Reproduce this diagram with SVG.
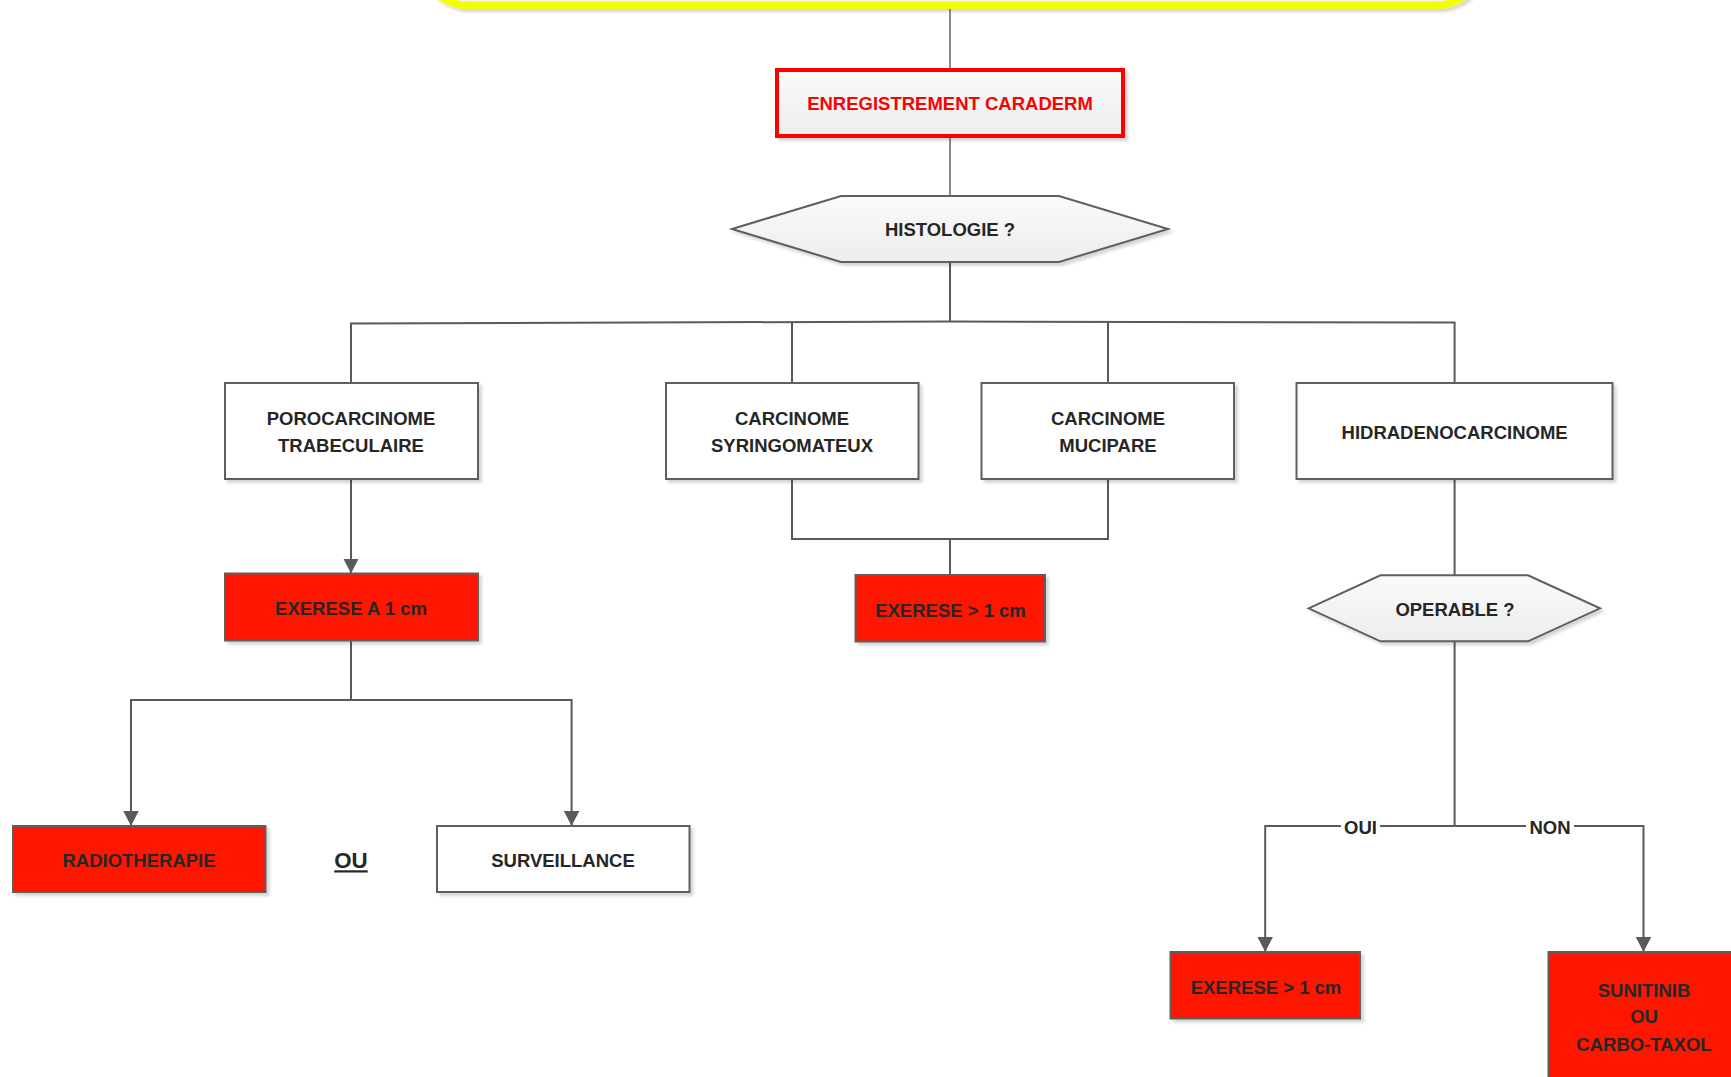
<svg xmlns="http://www.w3.org/2000/svg" width="1731" height="1077" viewBox="0 0 1731 1077">
  <defs>
    <style>
      .t { font-family: "Liberation Sans", Arial, sans-serif; font-weight: bold; font-size: 18.5px; fill: #262626; text-anchor: middle; }
      .red-t { fill: #FF0000; }
      .big { font-size: 22.3px; }
      .box { fill: #FFFFFF; stroke: #5E5E5E; stroke-width: 2; }
      .rbox { fill: #FF1400; stroke: #5E5E5E; stroke-width: 2; }
      .hex { fill: url(#lightGrad); stroke: #5E5E5E; stroke-width: 2; }
      .conn { fill: none; stroke: #5A5A5A; stroke-width: 2; }
      .thin { stroke-width: 1.4; }
    </style>
    <linearGradient id="lightGrad" x1="0" y1="0" x2="0" y2="1">
      <stop offset="0" stop-color="#FAFAFA"/>
      <stop offset="1" stop-color="#ECEDED"/>
    </linearGradient>
    <filter id="shadow" x="-5%" y="-5%" width="115%" height="125%">
      <feDropShadow dx="3" dy="3" stdDeviation="1.5" flood-color="#000000" flood-opacity="0.16"/>
    </filter>
    <marker id="arrow" viewBox="0 0 15 16" markerWidth="15" markerHeight="16" refX="14.5" refY="8" orient="auto" markerUnits="userSpaceOnUse">
      <path d="M0,0.3 L15,8 L0,15.7 Z" fill="#5A5A5A"/>
    </marker>
  </defs>

  <rect width="1731" height="1077" fill="#FFFFFF"/>

  <!-- Top yellow box (mostly off-canvas) -->
  <g id="top-box">
    <rect x="421" y="-120" width="1062" height="125.3" rx="47" ry="47" fill="#F2F2F2" stroke="#F2FF00" stroke-width="7.5" filter="url(#shadow)"/>
  </g>

  <!-- Connectors -->
  <g id="connectors">
    <line class="conn thin" x1="950" y1="9" x2="950" y2="68"/>
    <line class="conn thin" x1="950" y1="137" x2="950" y2="196"/>
    <line class="conn" x1="950" y1="262" x2="950" y2="321.5"/>
    <polyline class="conn" points="351,383 351,323.5 950,321.5 1454.6,322.5 1454.6,383"/>
    <line class="conn" x1="792" y1="322.5" x2="792" y2="383"/>
    <line class="conn" x1="1108" y1="322" x2="1108" y2="383"/>

    <line class="conn" x1="351" y1="479" x2="351" y2="573" marker-end="url(#arrow)"/>

    <polyline class="conn" points="792,479 792,539 1108,539 1108,479"/>
    <line class="conn" x1="950" y1="539" x2="950" y2="575"/>

    <line class="conn" x1="1454.6" y1="479" x2="1454.6" y2="575.3"/>

    <line class="conn" x1="351" y1="641" x2="351" y2="700"/>
    <path class="conn" d="M351,700 H131 V825.5" marker-end="url(#arrow)"/>
    <path class="conn" d="M351,700 H571.6 V825.5" marker-end="url(#arrow)"/>

    <line class="conn" x1="1454.6" y1="641.3" x2="1454.6" y2="826"/>
    <path class="conn" d="M1454.6,826 H1265.2 V951.5" marker-end="url(#arrow)"/>
    <path class="conn" d="M1454.6,826 H1643.5 V951.5" marker-end="url(#arrow)"/>
    <rect x="1341" y="814" width="39" height="24" fill="#FFFFFF"/>
    <rect x="1526" y="814" width="48" height="24" fill="#FFFFFF"/>
    <text class="t" x="1360.5" y="833.5">OUI</text>
    <text class="t" x="1550" y="833.5">NON</text>
  </g>

  <g id="enregistrement">
    <rect x="777" y="70" width="346" height="66" fill="url(#lightGrad)" stroke="#FF0000" stroke-width="4" filter="url(#shadow)"/>
    <text class="t red-t" x="950" y="109.5">ENREGISTREMENT CARADERM</text>
  </g>

  <g id="histologie">
    <polygon class="hex" points="732,229 841,196 1059,196 1168,229 1059,262 841,262" filter="url(#shadow)"/>
    <text class="t" x="950" y="236">HISTOLOGIE ?</text>
  </g>

  <g id="porocarcinome">
    <rect class="box" x="225" y="383" width="253" height="96" filter="url(#shadow)"/>
    <text class="t" x="351" y="425">POROCARCINOME</text>
    <text class="t" x="351" y="451.7">TRABECULAIRE</text>
  </g>

  <g id="syringomateux">
    <rect class="box" x="666" y="383" width="252.5" height="96" filter="url(#shadow)"/>
    <text class="t" x="792" y="425">CARCINOME</text>
    <text class="t" x="792" y="451.7">SYRINGOMATEUX</text>
  </g>

  <g id="mucipare">
    <rect class="box" x="981.5" y="383" width="252.5" height="96" filter="url(#shadow)"/>
    <text class="t" x="1108" y="425">CARCINOME</text>
    <text class="t" x="1108" y="451.7">MUCIPARE</text>
  </g>

  <g id="hidradenocarcinome">
    <rect class="box" x="1296.5" y="383" width="316" height="96" filter="url(#shadow)"/>
    <text class="t" x="1454.6" y="439">HIDRADENOCARCINOME</text>
  </g>

  <g id="exerese-a-1cm">
    <rect class="rbox" x="225" y="573.5" width="253" height="67" filter="url(#shadow)"/>
    <text class="t" x="351" y="615">EXERESE A 1 cm</text>
  </g>

  <g id="exerese-center">
    <rect class="rbox" x="855.5" y="575" width="189.5" height="66.5" filter="url(#shadow)"/>
    <text class="t" x="950.5" y="616.5">EXERESE &gt; 1 cm</text>
  </g>

  <g id="operable">
    <polygon class="hex" points="1308.6,608.3 1380.5,575.3 1528,575.3 1600,608.3 1528,641.3 1380.5,641.3" filter="url(#shadow)"/>
    <text class="t" x="1455" y="616">OPERABLE ?</text>
  </g>

  <g id="radiotherapie">
    <rect class="rbox" x="13" y="826" width="252.5" height="66" filter="url(#shadow)"/>
    <text class="t" x="139" y="867">RADIOTHERAPIE</text>
  </g>

  <g id="ou-label">
    <text class="t big" x="351" y="868.3" text-decoration="underline">OU</text>
  </g>

  <g id="surveillance">
    <rect class="box" x="437" y="826" width="252.5" height="66" filter="url(#shadow)"/>
    <text class="t" x="563" y="867">SURVEILLANCE</text>
  </g>

  <g id="exerese-right">
    <rect class="rbox" x="1170.5" y="952" width="189.5" height="66.5" filter="url(#shadow)"/>
    <text class="t" x="1266" y="994">EXERESE &gt; 1 cm</text>
  </g>

  <g id="sunitinib">
    <rect class="rbox" x="1548.5" y="952" width="190" height="135" filter="url(#shadow)"/>
    <text class="t" x="1644" y="997">SUNITINIB</text>
    <text class="t" x="1644" y="1023.3">OU</text>
    <text class="t" x="1644" y="1050.7">CARBO-TAXOL</text>
  </g>
</svg>
